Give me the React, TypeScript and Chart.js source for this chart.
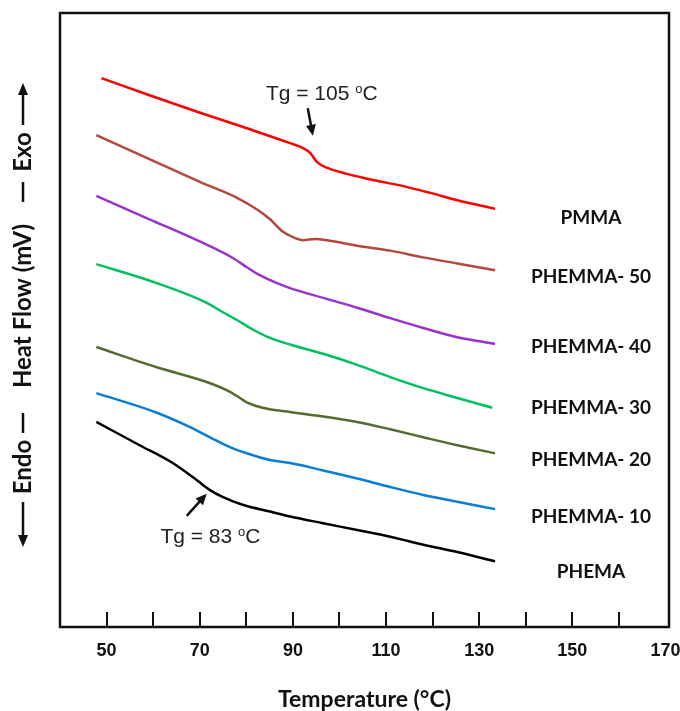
import React, { useEffect, useRef } from 'react';
import { Chart, registerables } from 'chart.js';

Chart.register(...registerables);

// ---------------- data ----------------
const seriesNames = ['PMMA', 'PHEMMA- 50', 'PHEMMA- 40', 'PHEMMA- 30', 'PHEMMA- 20', 'PHEMMA- 10', 'PHEMA'];
const seriesColors = ['#FF0000', '#B5473F', '#9933CC', '#00BF5F', '#556B2F', '#0A7ED6', '#000000'];

const pmmaT = [48.9, 59.2, 69.9, 80.6, 89.4, 92.2, 93.7, 95.2, 97.3, 101.6, 107.2, 113.7, 119.5, 125.3, 133.4];
const pmmaHF = [89.4, 86.6, 83.8, 81.1, 78.8, 78.0, 77.2, 75.7, 74.8, 73.8, 72.8, 71.8, 70.7, 69.5, 68.1];

const p50T = [47.8, 59.2, 70.0, 78.0, 82.3, 85.1, 87.8, 90.0, 92.2, 94.7, 98.0, 103.8, 110.9, 118.0, 125.3, 133.4];
const p50HF = [80.1, 76.2, 72.5, 69.9, 68.0, 66.4, 64.4, 63.5, 63.0, 63.2, 62.9, 62.1, 61.3, 60.2, 59.2, 58.1];

const p40T = [47.8, 59.2, 69.4, 77.1, 80.1, 82.9, 86.6, 89.4, 96.5, 103.8, 110.9, 118.0, 125.3, 133.4];
const p40HF = [70.2, 66.4, 63.0, 60.1, 58.6, 57.3, 56.0, 55.2, 53.6, 52.0, 50.3, 48.7, 47.2, 46.1];

const p30T = [47.8, 60.8, 71.5, 74.9, 78.0, 80.8, 84.4, 89.4, 96.5, 103.8, 110.9, 118.0, 125.3, 132.8];
const p30HF = [59.1, 56.0, 52.8, 51.3, 50.0, 48.7, 47.3, 46.0, 44.5, 42.7, 40.7, 38.9, 37.3, 35.7];

const p20T = [47.8, 60.8, 71.5, 76.5, 80.1, 83.5, 89.4, 96.5, 103.8, 110.9, 118.0, 125.3, 133.4];
const p20HF = [45.6, 42.3, 39.9, 38.3, 36.6, 35.7, 35.0, 34.3, 33.4, 32.2, 30.9, 29.6, 28.3];

const p10T = [47.8, 60.8, 67.8, 72.2, 76.5, 80.1, 85.1, 89.4, 96.5, 103.8, 110.9, 118.0, 125.3, 133.4];
const p10HF = [38.1, 34.9, 32.6, 30.9, 29.3, 28.3, 27.2, 26.7, 25.5, 24.2, 22.8, 21.5, 20.4, 19.2];

const phemaT = [47.8, 57.1, 64.2, 69.4, 72.2, 74.9, 79.2, 85.1, 89.4, 96.5, 103.8, 110.9, 118.0, 125.3, 133.4];
const phemaHF = [33.4, 29.6, 26.7, 23.9, 22.3, 21.2, 19.9, 18.8, 18.0, 16.9, 15.8, 14.7, 13.4, 12.2, 10.7];

const seriesT = [pmmaT, p50T, p40T, p30T, p20T, p10T, phemaT];
const seriesHF = [pmmaHF, p50HF, p40HF, p30HF, p20HF, p10HF, phemaHF];

// curve label anchors (data units)
const labelT = 154.0;
const labelHF = [66.6, 57.0, 45.6, 35.7, 27.2, 17.9, 9.0];

// axis ticks
const tickValues = [50, 60, 70, 80, 90, 100, 110, 120, 130, 140, 150, 160, 170];
const innerTickValues = [50, 60, 70, 80, 90, 100, 110, 120, 130, 140, 150, 160];

// Tg annotations
const tgValues = [105, 83];
const tgTextT = [96.2, 72.3];
const tgTextHF = [87.05, 14.9];
const tgArrowFromT = [93.2, 67.2];
const tgArrowFromHF = [84.5, 18.1];
const tgArrowToT = [94.3, 71.5];
const tgArrowToHF = [80.0, 21.7];

// ---------------- helpers ----------------
function arrowHead(ctx: CanvasRenderingContext2D, x1: number, y1: number, x2: number, y2: number, len: number, half: number) {
  const ang = Math.atan2(y2 - y1, x2 - x1);
  ctx.beginPath();
  ctx.moveTo(x2, y2);
  ctx.lineTo(x2 - len * Math.cos(ang) + half * Math.sin(ang), y2 - len * Math.sin(ang) - half * Math.cos(ang));
  ctx.lineTo(x2 - len * Math.cos(ang) - half * Math.sin(ang), y2 - len * Math.sin(ang) + half * Math.cos(ang));
  ctx.closePath();
  ctx.fill();
}

function arrow(ctx: CanvasRenderingContext2D, x1: number, y1: number, x2: number, y2: number, lw: number, len: number, half: number) {
  const ang = Math.atan2(y2 - y1, x2 - x1);
  ctx.lineWidth = lw;
  ctx.beginPath();
  ctx.moveTo(x1, y1);
  ctx.lineTo(x2 - (len - 1) * Math.cos(ang), y2 - (len - 1) * Math.sin(ang));
  ctx.stroke();
  arrowHead(ctx, x1, y1, x2, y2, len, half);
}

function drawTgText(ctx: CanvasRenderingContext2D, cx: number, cy: number, value: number) {
  const main = `Tg = ${value} `;
  const mainFont = '21px "Liberation Sans", Arial, sans-serif';
  const supFont = '13px "Liberation Sans", Arial, sans-serif';
  ctx.font = mainFont;
  const w1 = ctx.measureText(main).width;
  const w3 = ctx.measureText('C').width;
  ctx.font = supFont;
  const w2 = ctx.measureText('o').width;
  const total = w1 + w2 + w3;
  let x = cx - total / 2;
  const base = cy + 7.5;
  ctx.textAlign = 'left';
  ctx.textBaseline = 'alphabetic';
  ctx.fillStyle = '#222';
  ctx.font = mainFont;
  ctx.fillText(main, x, base);
  x += w1;
  ctx.font = supFont;
  ctx.fillText('o', x, base - 7);
  x += w2;
  ctx.font = mainFont;
  ctx.fillText('C', x, base);
}

const overlayPlugin = {
  id: 'overlay',
  afterDraw(chart: any) {
    const { ctx, chartArea: a, scales } = chart;
    const x = scales.x;
    const y = scales.y;
    ctx.save();

    // frame
    ctx.strokeStyle = '#111';
    ctx.lineWidth = 2.5;
    ctx.strokeRect(a.left, a.top, a.right - a.left, a.bottom - a.top);

    // inward tick marks
    ctx.lineWidth = 2;
    for (const v of innerTickValues) {
      const px = Math.round(x.getPixelForValue(v));
      ctx.beginPath();
      ctx.moveTo(px, a.bottom);
      ctx.lineTo(px, a.bottom - 15);
      ctx.stroke();
    }

    // curve labels
    ctx.font = 'bold 19px Lato, "Open Sans", sans-serif';
    ctx.textAlign = 'center';
    ctx.textBaseline = 'middle';
    ctx.fillStyle = '#111';
    seriesNames.forEach((n, i) => {
      ctx.fillText(n, x.getPixelForValue(labelT), y.getPixelForValue(labelHF[i]));
    });

    // Tg annotations
    ctx.fillStyle = '#111';
    ctx.strokeStyle = '#111';
    tgValues.forEach((v, i) => {
      drawTgText(ctx, x.getPixelForValue(tgTextT[i]), y.getPixelForValue(tgTextHF[i]), v);
      ctx.fillStyle = '#111';
      arrow(
        ctx,
        x.getPixelForValue(tgArrowFromT[i]), y.getPixelForValue(tgArrowFromHF[i]),
        x.getPixelForValue(tgArrowToT[i]), y.getPixelForValue(tgArrowToHF[i]),
        2.5, 11, 5
      );
    });

    // y axis title: ← Endo — Heat Flow (mV) — Exo →
    const tx = 23;
    ctx.fillStyle = '#111';
    ctx.strokeStyle = '#111';
    ctx.font = 'bold 24px Lato, "Open Sans", sans-serif';
    ctx.textAlign = 'center';
    ctx.textBaseline = 'middle';
    const pieces: [string, number][] = [['Endo', 467], ['Heat Flow (mV)', 306], ['Exo', 152]];
    for (const [t, cy] of pieces) {
      ctx.save();
      ctx.translate(tx, cy);
      ctx.rotate(-Math.PI / 2);
      ctx.fillText(t, 0, 0);
      ctx.restore();
    }
    ctx.lineWidth = 2.5;
    ctx.beginPath();
    ctx.moveTo(tx, 413); ctx.lineTo(tx, 433);
    ctx.moveTo(tx, 182); ctx.lineTo(tx, 202);
    ctx.stroke();
    arrow(ctx, tx, 502, tx, 547, 2.5, 12, 5);
    arrow(ctx, tx, 125, tx, 83, 2.5, 12, 5);

    ctx.restore();
  },
};

export default function App() {
  const ref = useRef<HTMLCanvasElement | null>(null);

  useEffect(() => {
    if (!ref.current) return;
    const datasets = seriesNames.map((name, i) => ({
      label: name,
      data: seriesT[i].map((t, j) => ({ x: t, y: seriesHF[i][j] })),
      borderColor: seriesColors[i],
      backgroundColor: seriesColors[i],
      borderWidth: 2.5,
      pointRadius: 0,
      fill: false,
      cubicInterpolationMode: 'monotone' as const,
    }));

    const chart = new Chart(ref.current, {
      type: 'line',
      data: { datasets },
      options: {
        animation: false,
        responsive: false,
        devicePixelRatio: 1,
        layout: { padding: { left: 60, right: 11, top: 13, bottom: 0 } },
        plugins: { legend: { display: false }, tooltip: { enabled: false } },
        scales: {
          x: {
            type: 'linear',
            min: 40,
            max: 170.75,
            afterBuildTicks: (scale: any) => {
              scale.ticks = tickValues.map((v) => ({ value: v }));
            },
            afterFit: (scale: any) => {
              scale.height = 84;
              scale.paddingLeft = 0;
              scale.paddingRight = 0;
            },
            grid: { display: false, drawTicks: false },
            border: { display: false },
            ticks: {
              autoSkip: false,
              maxRotation: 0,
              padding: 13,
              color: '#111',
              font: { family: '"Liberation Sans", Arial, sans-serif', size: 18, weight: 'bold' },
              callback: (v: any) => ((Number(v) - 50) % 20 === 0 ? String(v) : ''),
            },
            title: {
              display: true,
              text: 'Temperature (°C)',
              color: '#111',
              padding: 0,
              font: { family: 'Lato, "Open Sans", sans-serif', size: 23, weight: 'bold', lineHeight: 1 },
            },
          },
          y: {
            type: 'linear',
            display: false,
            min: 0,
            max: 100,
          },
        },
      },
      plugins: [overlayPlugin],
    });
    return () => chart.destroy();
  }, []);

  return (
    <div style={{ position: 'absolute', left: 0, top: 0, width: 680, height: 711, background: '#fff' }}>
      <canvas ref={ref} width={680} height={711} style={{ display: 'block' }} />
    </div>
  );
}
